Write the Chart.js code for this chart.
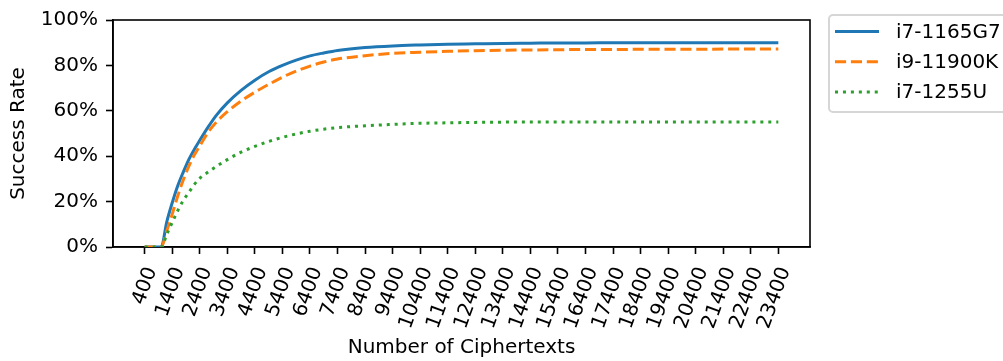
<!DOCTYPE html>
<html>
<head>
<meta charset="utf-8">
<script src="https://cdn.jsdelivr.net/npm/chart.js@4.4.0/dist/chart.umd.min.js"></script>
<style>
  html, body { margin: 0; padding: 0; background: #fff; }
</style>
</head>
<body>
<canvas id="chart" width="1003" height="361"></canvas>
<script>
// number of ciphertexts (x) and success rate per CPU
const ciphertexts = [400, 1000, 1200, 1400, 1600, 1800, 2000, 2200, 2400, 2700, 3000, 3400, 3900, 4400, 4900, 5400,
    5900, 6400, 6900, 7400, 8400, 9400, 10400, 11400, 12400, 13400, 14400, 15400, 16400, 17400, 18400, 19400,
    20400, 21400, 22400, 23400];
const rateI7_1165G7 = [0, 0, 0.11, 0.195, 0.27, 0.33, 0.385, 0.43, 0.47, 0.528, 0.58, 0.635, 0.69, 0.735, 0.772, 0.80,
    0.823, 0.842, 0.855, 0.866, 0.879, 0.886, 0.89, 0.893, 0.895, 0.897, 0.898, 0.899, 0.899, 0.9, 0.9, 0.9,
    0.9, 0.9, 0.9, 0.9];
const rateI9_11900K = [0, 0, 0.07, 0.145, 0.225, 0.295, 0.355, 0.405, 0.445, 0.505, 0.55, 0.596, 0.643, 0.682, 0.716, 0.748,
    0.775, 0.797, 0.815, 0.828, 0.843, 0.853, 0.858, 0.862, 0.865, 0.867, 0.868, 0.869, 0.87, 0.87, 0.871, 0.871,
    0.871, 0.872, 0.872, 0.872];
const rateI7_1255U = [0, 0, 0.055, 0.108, 0.16, 0.205, 0.24, 0.275, 0.303, 0.33, 0.355, 0.385, 0.418, 0.443, 0.465, 0.483,
    0.498, 0.51, 0.519, 0.526, 0.534, 0.54, 0.545, 0.547, 0.549, 0.55, 0.551, 0.551, 0.551, 0.551, 0.551, 0.551,
    0.551, 0.551, 0.551, 0.551];
const seriesNames = ['i7-1165G7', 'i9-11900K', 'i7-1255U'];
const xTicks = [400, 1400, 2400, 3400, 4400, 5400, 6400, 7400, 8400, 9400, 10400, 11400, 12400, 13400, 14400,
    15400, 16400, 17400, 18400, 19400, 20400, 21400, 22400, 23400];
const yTicks = [0, 0.2, 0.4, 0.6, 0.8, 1.0];

const FONT = { family: 'DejaVu Sans', size: 20 };

function toPoints(values) {
    return values.map((v, i) => ({ x: ciphertexts[i], y: v }));
}

// спайны сверху/справа + легенда в рамке как в matplotlib
const framePlugin = {
    id: 'frame',
    beforeDatasetsDraw(chart) {
        const a = chart.chartArea;
        const c = chart.ctx;
        c.save();
        c.strokeStyle = '#000';
        c.lineWidth = 1.6;
        c.strokeRect(a.left, a.top, a.right - a.left, a.bottom - a.top);
        c.restore();
    },
    afterDraw(chart) {
        const c = chart.ctx;
        c.save();
        c.fillStyle = 'rgba(255,255,255,0.8)';
        c.strokeStyle = '#d6d6d6';
        c.lineWidth = 2;
        c.beginPath();
        c.roundRect(829, 15, 220, 97, 4);
        c.fill();
        c.stroke();
        c.font = '20px "DejaVu Sans"';
        c.textBaseline = 'middle';
        chart.data.datasets.forEach((ds, i) => {
            const y = 31.5 + i * 30.3;
            c.strokeStyle = ds.borderColor;
            c.lineWidth = ds.borderWidth;
            c.setLineDash(ds.borderDash || []);
            c.beginPath();
            c.moveTo(835, y);
            c.lineTo(879, y);
            c.stroke();
            c.fillStyle = '#000';
            c.fillText(ds.label, 896, y + 1);
        });
        c.restore();
    }
};

new Chart(document.getElementById('chart'), {
    type: 'line',
    data: {
        datasets: [
            { label: seriesNames[0], data: toPoints(rateI7_1165G7), borderColor: '#1f77b4', borderWidth: 3, order: 2 },
            { label: seriesNames[1], data: toPoints(rateI9_11900K), borderColor: '#ff7f0e', borderWidth: 3,
              borderDash: [11.1, 4.8], order: 1 },
            { label: seriesNames[2], data: toPoints(rateI7_1255U), borderColor: '#2ca02c', borderWidth: 3,
              borderDash: [3, 4.95], order: 0 }
        ]
    },
    options: {
        responsive: false,
        animation: false,
        devicePixelRatio: 1,
        layout: { padding: { left: 0, right: 193, top: 15, bottom: 0 } },
        elements: {
            point: { radius: 0 },
            line: { cubicInterpolationMode: 'monotone', fill: false }
        },
        plugins: { legend: { display: false }, tooltip: { enabled: false } },
        scales: {
            x: {
                type: 'linear',
                min: -750,
                max: 24550,
                afterBuildTicks: s => { s.ticks = xTicks.map(v => ({ value: v })); },
                afterFit: s => { s.height = 114; },
                ticks: {
                    autoSkip: false, minRotation: 70, maxRotation: 70,
                    font: FONT, color: '#000', padding: 10, labelOffset: 7,
                    callback: v => String(v)
                },
                grid: { drawOnChartArea: false, tickLength: 7, tickWidth: 1.6, tickColor: '#000' },
                border: { color: '#000', width: 1.6 },
                title: { display: true, text: 'Number of Ciphertexts', font: FONT, color: '#000', padding: { top: 0, bottom: 1 } }
            },
            y: {
                min: 0,
                max: 1,
                afterBuildTicks: s => { s.ticks = yTicks.map(v => ({ value: v })); },
                afterFit: s => { s.width = 113; },
                ticks: { font: FONT, color: '#000', padding: 8, callback: v => Math.round(v * 100) + '%' },
                grid: { drawOnChartArea: false, tickLength: 7, tickWidth: 1.6, tickColor: '#000' },
                border: { color: '#000', width: 1.6 },
                title: { display: true, text: 'Success Rate', font: FONT, color: '#000', padding: { top: 7, bottom: 0 } }
            }
        }
    },
    plugins: [framePlugin]
});
</script>
</body>
</html>
